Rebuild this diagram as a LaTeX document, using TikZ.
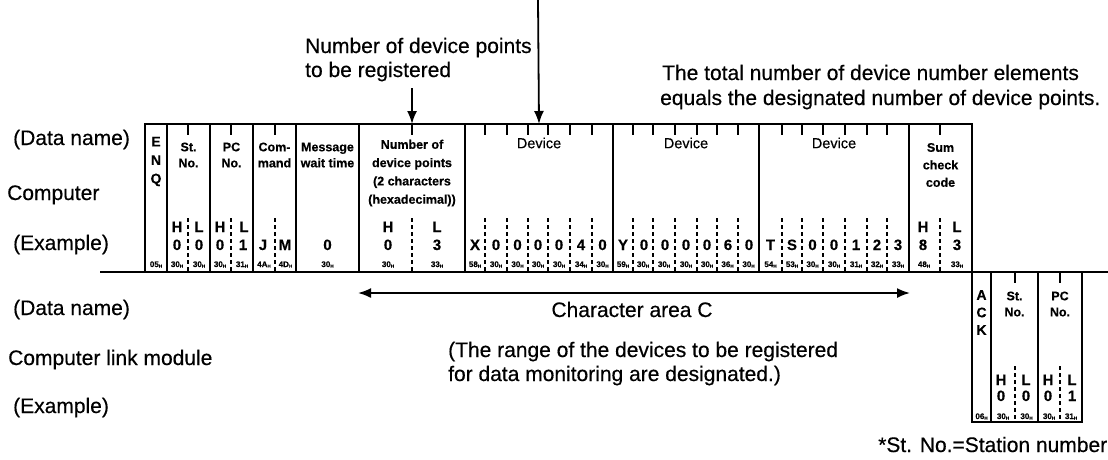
\documentclass[tikz,border=0pt]{standalone}
\usepackage{fontspec}
\setmainfont{Liberation Sans}[FakeBold=0.4]
\usetikzlibrary{arrows.meta}
% hex code with a small subscript H
\newcommand\hexH[1]{#1\raisebox{-0.6pt}{\fontsize{4.5}{4.5}\selectfont H}}

\begin{document}
\begin{tikzpicture}[x=1pt,y=-1pt,
  field/.style={draw, line width=1.5pt, inner sep=0pt, outer sep=0pt, anchor=north west},
  tick/.style={line width=1.5pt},
  divider/.style={line width=1.3pt, dash pattern=on 4pt off 3pt},
  conn/.style={line width=1.8pt, -{Latex[length=13pt,width=10pt]}},
  conntwo/.style={line width=1.8pt, {Latex[length=13pt,width=10pt]}-{Latex[length=13pt,width=10pt]}},
  big/.style={font=\fontsize{21}{25}\selectfont, inner sep=0pt, anchor=base west},
  fname/.style={font=\fontsize{12.5}{16}\selectfont\bfseries, align=center, inner sep=0pt},
  dname/.style={font=\fontsize{14.5}{14.5}\selectfont, inner sep=0pt},
  val/.style={font=\fontsize{15}{15}\selectfont\bfseries, inner sep=0pt, anchor=base},
  hexc/.style={font=\fontsize{8}{8}\selectfont\bfseries, inner sep=0pt, anchor=base},
]
\useasboundingbox (0,0) rectangle (1108,459);

% ---- message from the computer ----
\foreach \n/\l/\r in {enq/145/167, stn/167/210, pcn/210/253, cmd/253/296, wait/296/359,
                      pts/359/465, dva/465/613, dvb/613/759, dvc/759/909, sum/909/972}{
  \pgfmathsetmacro\w{\r-\l}
  \node[field, minimum width=\w pt, minimum height=148pt] (\n) at (\l,124) {};
}
% ---- response from the computer link module ----
\foreach \n/\l/\r in {ack/972/991, ast/991/1038, apc/1038/1082}{
  \pgfmathsetmacro\w{\r-\l}
  \node[field, minimum width=\w pt, minimum height=150pt] (\n) at (\l,272) {};
}
\draw[line width=2pt] (100,272) -- (1108,272);

% character boundaries: short ticks at the top, dashed lines below
\foreach \x in {188,231,275,412,940,485,507,528,548,570,592,633,653,675,697,717,738,782,802,823,845,867,887}
  \draw[tick] (\x,124) -- (\x,135);
\foreach \x in {188,231,275,412,940,485,507,528,548,570,592,633,653,675,697,717,738,782,802,823,845,867,887}
  \draw[divider] (\x,218) -- (\x,272);
\foreach \x in {1015,1060}{
  \draw[tick] (\x,272) -- (\x,283);
  \draw[divider] (\x,366) -- (\x,422);
}

% field names
\node[fname, font=\fontsize{14}{18.5}\selectfont\bfseries] (t-enq) at (156,161.5) {E\\N\\Q};
\node[fname] (t-stn) at (188.5,155) {St.\\No.};
\node[fname] (t-pcn) at (231.5,155) {PC\\No.};
\node[fname] (t-cmd) at (274.5,155) {Com-\\mand};
\node[fname] (t-wait) at (327.5,155) {Message\\wait time};
\node[fname, font=\fontsize{12.5}{18.3}\selectfont\bfseries] (t-pts) at (412,173) {Number of\\device points\\(2 characters\\(hexadecimal))};
\node[dname] (t-dva) at (539,143) {Device};
\node[dname] (t-dvb) at (686,143) {Device};
\node[dname] (t-dvc) at (834,143) {Device};
\node[fname, font=\fontsize{12.5}{17.5}\selectfont\bfseries] (t-sum) at (940.5,165) {Sum\\check\\code};
\node[fname, font=\fontsize{14}{17.5}\selectfont\bfseries] (t-ack) at (981.5,312.5) {A\\C\\K};
\node[fname] (t-ast) at (1014.5,304) {St.\\No.};
\node[fname] (t-apc) at (1060,304) {PC\\No.};

% H / L markers
\foreach \x/\c [count=\i] in {177/H,199/L,220/H,244/L,388/H,437/L,923/H,957/L}
  \node[val] (hl\i) at (\x,232) {\c};
\foreach \x/\c [count=\i] in {1001/H,1026/L,1048/H,1072/L}
  \node[val] (ahl\i) at (\x,385) {\c};

% example characters
\foreach \x/\c [count=\i] in {177/0,199/0,220/0,243/1,263/J,285/M,327.5/0,388/0,437/3,
    475/X,496/0,517.5/0,538/0,559/0,581/4,602.5/0,
    623/Y,644/0,665/0,686/0,707/0,728/6,749/0,
    770.5/T,792/S,812.5/0,834/0,856/1,877/2,898/3,923/8,957/3}
  \node[val] (v\i) at (\x,250) {\c};
\foreach \x/\c [count=\i] in {1001/0,1026/0,1048/0,1072/1}
  \node[val] (av\i) at (\x,401) {\c};

% ASCII codes
\foreach \x/\c [count=\i] in {156/05,177/30,199/30,220/30,242/31,264/4A,285.5/4D,327.5/30,388/30,437/33,
    475/58,496/30,517.5/30,538/30,559/30,581/34,602.5/30,
    623/59,643/30,664/30,686/30,707/30,727.5/36,748.5/30,
    770.5/54,792/53,812.5/30,834/30,856/31,877/32,898/33,924/48,957/33}
  \node[hexc] (x\i) at (\x,267) {\hexH{\c}};
\foreach \x/\c [count=\i] in {981.5/06,1003/30,1026.5/30,1049/30,1071/31}
  \node[hexc] (ax\i) at (\x,419) {\hexH{\c}};

% row labels
\node[big] (l-name1) at (13,145) {(Data name)};
\node[big] (l-comp) at (7,200) {Computer};
\node[big] (l-ex1) at (13,250) {(Example)};
\node[big] (l-name2) at (13,315) {(Data name)};
\node[big] (l-link) at (8,365) {Computer link module};
\node[big] (l-ex2) at (13,413) {(Example)};

% notes
\node[big] (n-pts1) at (305,53) {Number of device points};
\node[big] (n-pts2) at (305,77) {to be registered};
\node[big] (n-tot1) at (662,80) {The total number of device number elements};
\node[big] (n-tot2) at (660,105) {equals the designated number of device points.};
\node[big, anchor=base] (n-area) at (632,317) {Character area C};
\node[big] (n-rng1) at (448,357) {(The range of the devices to be registered};
\node[big] (n-rng2) at (448,381) {for data monitoring are designated.)};
\node[big] (n-st) at (878,452) {*St. No.=Station number};

% pointers
\coordinate (srcA) at (538,0);
\coordinate (srcB) at (412,88);
\draw[conn] (srcA) -- (dva.north);
\draw[conn] (srcB) -- (pts.north);
\coordinate (caL) at (358,293);
\coordinate (caR) at (910,293);
\draw[conntwo] (caL) -- (caR);
\end{tikzpicture}
\end{document}
